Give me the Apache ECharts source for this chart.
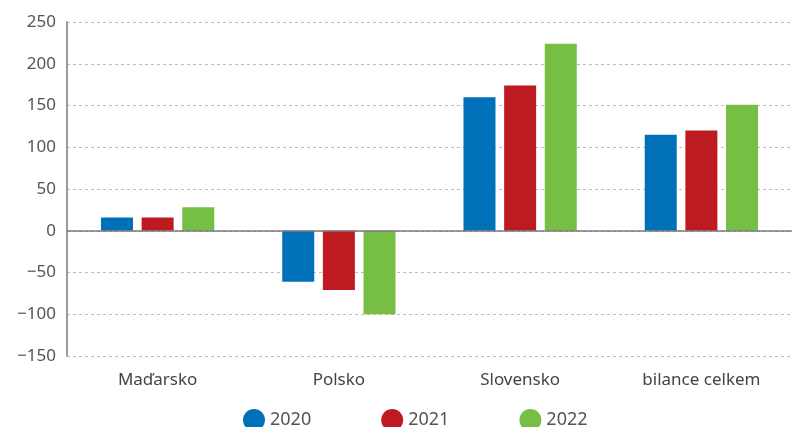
<!DOCTYPE html>
<html lang="cs">
<head>
    <meta charset="UTF-8">
    <title>Bilance</title>
    <script src="https://cdn.jsdelivr.net/npm/echarts@6/dist/echarts.min.js"></script>
    <style>
        html, body { margin: 0; padding: 0; background: #fff; }
        #chart { width: 792px; height: 427px; }
    </style>
</head>
<body>
<div id="chart"></div>
<script>
    var categories = ['Maďarsko', 'Polsko', 'Slovensko', 'bilance celkem'];
    var years = ['2020', '2021', '2022'];
    var values2020 = [16, -61, 160, 115];
    var values2021 = [16, -71, 174, 120];
    var values2022 = [28, -100, 224, 151];
    var yTicks = { min: -150, max: 250, interval: 50 };

    var colors = ['#0070b8', '#be1a21', '#77bf44'];
    var fontFamily = '"Noto Sans", "Open Sans", sans-serif';

    var chart = echarts.init(document.getElementById('chart'), null, { renderer: 'canvas' });

    var makeSeries = function (name, data, idx) {
        var s = {
            name: name,
            type: 'bar',
            data: data,
            barWidth: 32,
            barGap: '27%',
            itemStyle: { color: colors[idx] }
        };
        if (idx === 0) {
            s.markLine = {
                silent: true,
                symbol: 'none',
                label: { show: false },
                lineStyle: { color: '#7a7a7a', width: 1.5, type: 'solid' },
                data: [{ yAxis: 0 }]
            };
        }
        return s;
    };

    chart.setOption({
        animation: false,
        color: colors,
        grid: { left: 67, width: 728, top: 22, bottom: 71 },
        legend: {
            data: years,
            bottom: -9,
            left: 238,
            icon: 'circle',
            itemWidth: 22,
            itemHeight: 22,
            itemGap: 70,
            textStyle: { color: '#555', fontSize: 18, fontFamily: fontFamily }
        },
        xAxis: {
            type: 'category',
            data: categories,
            axisLine: { show: false, onZero: false },
            axisTick: { show: false },
            axisLabel: { color: '#444', fontSize: 17, margin: 16, fontFamily: fontFamily }
        },
        yAxis: {
            type: 'value',
            min: yTicks.min,
            max: yTicks.max,
            interval: yTicks.interval,
            axisLine: { show: true, lineStyle: { color: '#7a7a7a', width: 1.5 } },
            axisTick: { show: false },
            axisLabel: {
                color: '#555',
                fontSize: 17,
                margin: 11,
                fontFamily: fontFamily,
                formatter: function (v) { return v < 0 ? '\u2212' + Math.abs(v) : String(v); }
            },
            splitLine: { lineStyle: { color: '#bdbdbd', type: [3, 3], width: 1 } }
        },
        series: [
            makeSeries(years[0], values2020, 0),
            makeSeries(years[1], values2021, 1),
            makeSeries(years[2], values2022, 2)
        ]
    });
</script>
</body>
</html>
